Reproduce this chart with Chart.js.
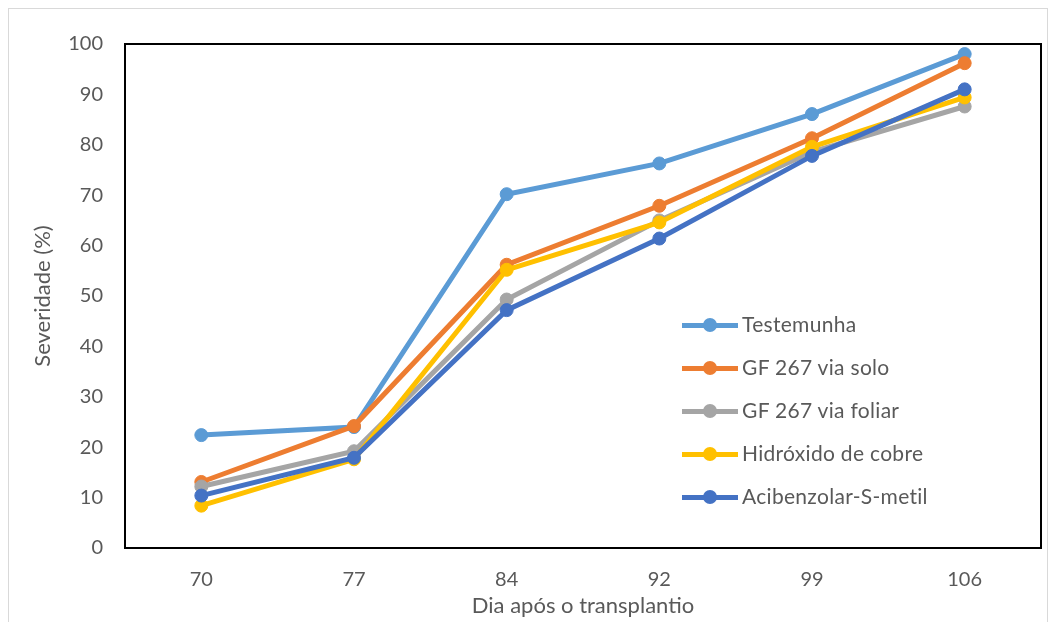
<!DOCTYPE html>
<html>
<head>
<meta charset="utf-8">
<script src="https://cdn.jsdelivr.net/npm/chart.js@4.4.1/dist/chart.umd.min.js"></script>
<style>
  html, body { margin: 0; padding: 0; background: #fff; overflow: hidden; }
  #wrap { position: relative; width: 1060px; height: 622px; }
  #frame { position: absolute; left: 8px; top: 8px; width: 1040px; height: 700px; border: 1px solid #d9d9d9; box-sizing: border-box; }
  canvas { position: absolute; left: 0; top: 0; }
  #legend { position: absolute; left: 682px; top: 312px; font-family: Lato, "Liberation Sans", sans-serif; font-size: 21px; color: #595959; }
  .item { position: relative; height: 43px; line-height: 26px; white-space: nowrap; }
  .sw { position: absolute; left: 0; top: 11px; width: 56px; height: 5px; }
  .dot { position: absolute; left: 21px; top: 6px; width: 14px; height: 14px; border-radius: 50%; }
  .lbl { position: absolute; left: 60px; top: -1px; letter-spacing: 0.3px; }
</style>
</head>
<body>
<div id="wrap">
  <div id="frame"></div>
  <canvas id="c" width="1060" height="622"></canvas>
  <div id="legend"></div>
</div>
<script>
const categories = ["70", "77", "84", "92", "99", "106"];
const seriesNames = ["Testemunha", "GF 267 via solo", "GF 267 via foliar", "Hidróxido de cobre", "Acibenzolar-S-metil"];
const testemunha = [22.4, 24.0, 70.2, 76.3, 86.1, 98.0];
const gfSolo = [13.1, 24.2, 56.2, 67.9, 81.3, 96.2];
const gfFoliar = [12.2, 19.2, 49.3, 65.0, 78.6, 87.6];
const hidroxido = [8.4, 17.6, 55.2, 64.6, 79.6, 89.4];
const acibenzolar = [10.4, 17.9, 47.2, 61.4, 77.8, 91.0];
const colors = ["#5B9BD5", "#ED7D31", "#A5A5A5", "#FFC000", "#4472C4"];
const yTicks = [0, 10, 20, 30, 40, 50, 60, 70, 80, 90, 100];
const allSeries = [testemunha, gfSolo, gfFoliar, hidroxido, acibenzolar];

const FONT = 'Lato, "Liberation Sans", sans-serif';
const TXT = '#595959';

const borderPlugin = {
  id: 'plotBorder',
  afterDraw(chart) {
    const a = chart.chartArea, ctx = chart.ctx;
    ctx.save();
    ctx.strokeStyle = '#000';
    ctx.lineWidth = 2;
    ctx.strokeRect(a.left, a.top, a.right - a.left, a.bottom - a.top);
    ctx.restore();
  }
};

new Chart(document.getElementById('c'), {
  type: 'line',
  data: {
    labels: categories,
    datasets: allSeries.map((d, i) => ({
      label: seriesNames[i],
      data: d,
      borderColor: colors[i],
      backgroundColor: colors[i],
      pointBackgroundColor: colors[i],
      pointBorderColor: colors[i],
      borderWidth: 5,
      pointRadius: 6.5,
      pointBorderWidth: 1,
      tension: 0,
      fill: false,
      order: allSeries.length - i
    }))
  },
  options: {
    responsive: false,
    animation: false,
    devicePixelRatio: 1,
    layout: { padding: { left: 0, top: 44, right: 19, bottom: 0 } },
    plugins: { legend: { display: false }, tooltip: { enabled: false } },
    scales: {
      x: {
        offset: true,
        grid: { display: false, drawTicks: false },
        border: { display: false },
        ticks: { color: TXT, font: { family: FONT, size: 20 }, padding: 20 },
        title: { display: true, text: 'Dia após o transplantio', color: TXT, font: { family: FONT, size: 22 }, padding: { top: 0, bottom: 3 } },
        afterFit(s) { s.height = 74; }
      },
      y: {
        min: 0, max: 100,
        afterBuildTicks(s) { s.ticks = yTicks.map(v => ({ value: v })); },
        grid: { display: false, drawTicks: false },
        border: { display: false },
        ticks: { color: TXT, font: { family: FONT, size: 20 }, padding: 22 },
        title: { display: true, text: 'Severidade (%)', color: TXT, font: { family: FONT, size: 22 }, padding: { top: 30, bottom: 0 } },
        afterFit(s) { s.width = 125; }
      }
    }
  },
  plugins: [borderPlugin]
});

const leg = document.getElementById('legend');
seriesNames.forEach((n, i) => {
  const it = document.createElement('div');
  it.className = 'item';
  it.innerHTML = '<div class="sw" style="background:' + colors[i] + '"></div><div class="dot" style="background:' + colors[i] + '"></div><div class="lbl"></div>';
  it.querySelector('.lbl').textContent = n;
  leg.appendChild(it);
});
</script>
</body>
</html>
